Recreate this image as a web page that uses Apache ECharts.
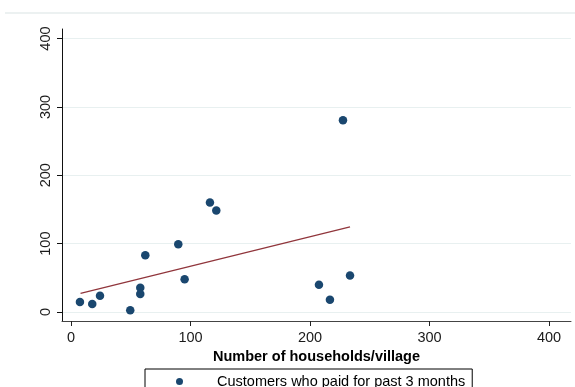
<!DOCTYPE html>
<html>
<head>
<meta charset="utf-8">
<style>html,body{margin:0;padding:0;background:#fff;}#chart{width:575px;height:387px;}</style>
<script src="https://cdn.jsdelivr.net/npm/echarts@6/dist/echarts.min.js"></script>
</head>
<body>
<div id="chart"></div>
<script>
const households = [7.5, 17.8, 24.3, 49.6, 58, 58, 62.2, 89.8, 95.1, 116.3, 121.6, 227.6, 207.5, 216.7, 233.5];
const customers  = [14.6, 11.7, 23.9, 2.4, 35.6, 26.4, 83, 99.1, 47.8, 160, 148.3, 280.6, 40, 18, 53.2];
const fitX = [8, 233.5];
const fitY = [27.3, 124.4];
const xTicks = [0, 100, 200, 300, 400];
const yTicks = [0, 100, 200, 300, 400];
const seriesName = 'Customers who paid for past 3 months';
const xTitle = 'Number of households/village';

const font = 'Liberation Sans, Arial, sans-serif';
const chart = echarts.init(document.getElementById('chart'), null, {renderer: 'canvas'});
chart.setOption({
  animation: false,
  backgroundColor: '#fff',
  grid: {left: 62, right: 4, top: 29, bottom: 66, containLabel: false},
  graphic: [{
    type: 'line', shape: {x1: 5, y1: 13, x2: 575, y2: 13},
    style: {stroke: '#e6eded', lineWidth: 1.5}, silent: true
  }],
  xAxis: {
    type: 'value', min: -7.5, max: 418.4,
    name: xTitle, nameLocation: 'middle', nameGap: 25,
    nameTextStyle: {fontFamily: font, fontSize: 14.5, fontWeight: 'bold', color: '#000', verticalAlign: 'top'},
    axisLine: {show: true, onZero: false, lineStyle: {color: '#444', width: 1}},
    axisTick: {show: true, length: 5, inside: false, customValues: xTicks, lineStyle: {color: '#222'}},
    axisLabel: {customValues: xTicks, margin: 9, fontFamily: font, fontSize: 14.5, color: '#1a1a1a', showMinLabel: true, showMaxLabel: true},
    splitLine: {show: false}
  },
  yAxis: {
    type: 'value', min: -13.2, max: 414,
    axisLine: {show: true, onZero: false, lineStyle: {color: '#111', width: 1}},
    axisTick: {show: true, length: 5, inside: false, customValues: yTicks, lineStyle: {color: '#111'}},
    axisLabel: {customValues: yTicks, rotate: 90, margin: 9, fontFamily: font, fontSize: 14.5, color: '#1a1a1a'},
    splitLine: {show: true, lineStyle: {color: '#e8f0f0', width: 1}}
  },
  legend: {
    show: true, data: [{name: seriesName, icon: 'circle'}],
    left: 145, top: 369, orient: 'horizontal',
    itemWidth: 7, itemHeight: 7,
    padding: [5, 7, 10, 31],
    borderColor: '#000', borderWidth: 1, borderRadius: 0,
    textStyle: {fontFamily: font, fontSize: 14.5, color: '#000', padding: [0, 0, 0, 29]}
  },
  series: [{
    name: seriesName, type: 'scatter',
    data: households.map((x, i) => [x, customers[i]]),
    symbol: 'circle', symbolSize: 8.5,
    itemStyle: {color: '#1a476f', opacity: 1}
  }, {
    name: 'Fitted values', type: 'line',
    data: fitX.map((x, i) => [x, fitY[i]]),
    symbol: 'none', lineStyle: {color: '#90353b', width: 1.2}
  }]
});
</script>
</body>
</html>
